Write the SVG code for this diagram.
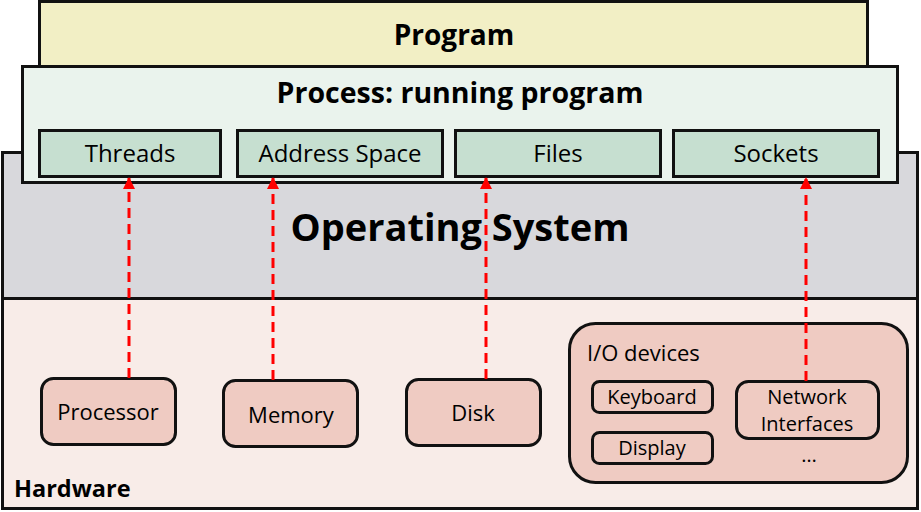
<svg xmlns="http://www.w3.org/2000/svg" width="921" height="512" viewBox="0 0 921 512">
<defs>
<style>
.layer{stroke:#111;stroke-width:3}
.box{stroke:#111;stroke-width:3}
.t{font-family:"Open Sans","Noto Sans",sans-serif;fill:#000;text-anchor:middle}
.b{font-weight:bold}
.con{stroke:#ff0000;stroke-width:3;stroke-dasharray:10 6;fill:none}
</style>
<marker id="ah" viewBox="0 0 12 12" refX="11" refY="6" markerWidth="12" markerHeight="12" markerUnits="userSpaceOnUse" orient="auto">
<path d="M0,0 L12,6 L0,12 Z" fill="#ff0000"/>
</marker>
</defs>
<rect width="921" height="512" fill="#ffffff"/>
<g id="os">
<rect class="layer" x="2.5" y="152.5" width="915" height="146" fill="#d8d8dc"/>
<text class="t b" x="460" y="241" font-size="38">Operating System</text>
</g>
<g id="hardware">
<rect class="layer" x="2.5" y="298.5" width="915" height="210" fill="#f8ece8"/>
<text class="t b" x="14" y="497" font-size="23.5" style="text-anchor:start">Hardware</text>
</g>
<g id="program">
<rect class="layer" x="39.5" y="1.5" width="828" height="65" fill="#f2efc5"/>
<text class="t b" x="454" y="45" font-size="28">Program</text>
</g>
<g id="process">
<rect class="layer" x="22.5" y="66.5" width="875" height="116" fill="#eaf3ed"/>
<text class="t b" x="460" y="103" font-size="28.5">Process: running program</text>
</g>
<g id="threads">
<rect class="box" x="39.5" y="130.5" width="181" height="46" fill="#c6dfd0"/>
<text class="t" x="130" y="162" font-size="24">Threads</text>
</g>
<g id="address-space">
<rect class="box" x="237.5" y="130.5" width="205" height="46" fill="#c6dfd0"/>
<text class="t" x="340" y="162" font-size="24">Address Space</text>
</g>
<g id="files">
<rect class="box" x="455.5" y="130.5" width="205" height="46" fill="#c6dfd0"/>
<text class="t" x="558" y="162" font-size="24">Files</text>
</g>
<g id="sockets">
<rect class="box" x="673.5" y="130.5" width="205" height="46" fill="#c6dfd0"/>
<text class="t" x="776" y="162" font-size="24">Sockets</text>
</g>
<g id="processor">
<rect class="box" x="41.5" y="378.5" width="134" height="66" rx="12" fill="#efcbc2"/>
<text class="t" x="108" y="420" font-size="22">Processor</text>
</g>
<g id="memory">
<rect class="box" x="223.5" y="380.5" width="134" height="66" rx="12" fill="#efcbc2"/>
<text class="t" x="291" y="423" font-size="22">Memory</text>
</g>
<g id="disk">
<rect class="box" x="406.5" y="379.5" width="134" height="66" rx="12" fill="#efcbc2"/>
<text class="t" x="473" y="421" font-size="22">Disk</text>
</g>
<g id="io-devices">
<rect class="box" x="569.5" y="323.5" width="338" height="159" rx="26" fill="#efcbc2"/>
<text class="t" x="587" y="361" font-size="22" style="text-anchor:start">I/O devices</text>
<text class="t" x="809" y="462" font-size="20">…</text>
</g>
<g id="keyboard">
<rect class="box" x="592.5" y="381.5" width="120" height="31" rx="7" fill="#efcbc2"/>
<text class="t" x="652" y="404" font-size="20">Keyboard</text>
</g>
<g id="display">
<rect class="box" x="592.5" y="432.5" width="120" height="31" rx="7" fill="#efcbc2"/>
<text class="t" x="652" y="455" font-size="20">Display</text>
</g>
<g id="network-interfaces">
<rect class="box" x="736.5" y="381.5" width="142" height="57" rx="12" fill="#efcbc2"/>
<text class="t" x="807" y="404" font-size="20">Network</text>
<text class="t" x="807" y="431" font-size="20">Interfaces</text>
</g>
<g id="connectors">
<line class="con" x1="129" y1="378" x2="129" y2="178" marker-end="url(#ah)"/>
<line class="con" x1="273" y1="380" x2="273" y2="178" marker-end="url(#ah)"/>
<line class="con" x1="486" y1="379" x2="486" y2="178" marker-end="url(#ah)"/>
<line class="con" x1="806" y1="381" x2="806" y2="178" marker-end="url(#ah)"/>
</g>
</svg>
